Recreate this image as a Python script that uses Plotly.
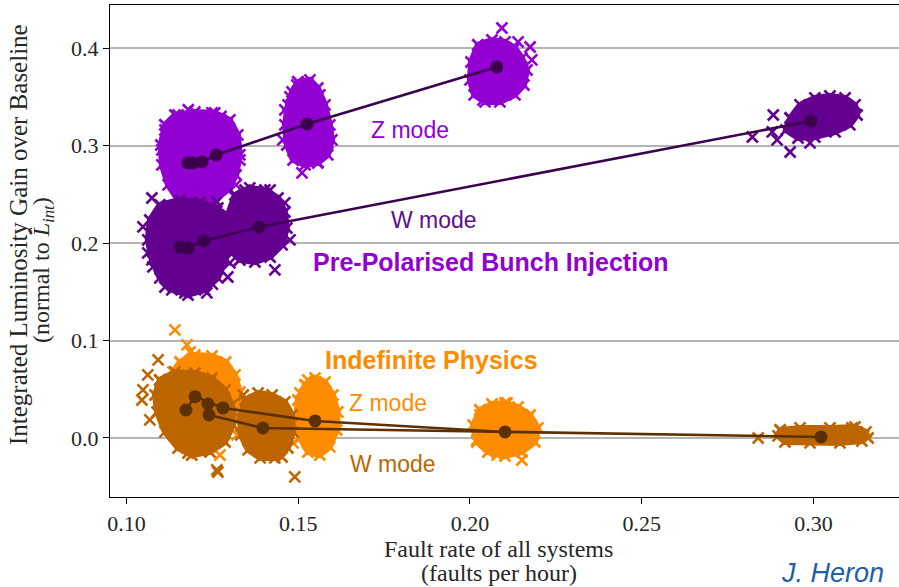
import plotly.graph_objects as go

# ---------------- data ----------------
# mean points (lines)
pz_line_x = [0.1179, 0.1193, 0.1220, 0.1261, 0.1526, 0.2078]
pz_line_y = [0.2823, 0.2823, 0.2834, 0.2906, 0.3224, 0.3809]
pw_line_x = [0.1156, 0.1179, 0.1225, 0.1386, 0.2993]
pw_line_y = [0.1961, 0.1950, 0.2023, 0.2166, 0.3255]
oz_line_x = [0.1173, 0.1200, 0.1281, 0.1549, 0.2102]
oz_line_y = [0.0287, 0.0424, 0.0308, 0.0175, 0.0062]
ow_line_x = [0.1237, 0.1240, 0.1397, 0.3022]
ow_line_y = [0.0349, 0.0236, 0.0103, 0.0010]

# dense cores of the sample clouds (outlines) and outlying samples
pz1_core_x = [0.1112, 0.1141, 0.1199, 0.1257, 0.1301, 0.1324, 0.1330, 0.1319, 0.1295, 0.1257, 0.1199, 0.1150, 0.1121, 0.1103, 0.1100]
pz1_core_y = [0.3214, 0.3316, 0.3347, 0.3337, 0.3265, 0.3111, 0.2906, 0.2700, 0.2546, 0.2444, 0.2392, 0.2444, 0.2598, 0.2803, 0.3008]
pz1_pts_x = [0.1150, 0.1249, 0.1112, 0.1103, 0.1316, 0.1330, 0.1199, 0.1292, 0.1319, 0.1127, 0.1180, 0.1275]
pz1_pts_y = [0.3316, 0.3337, 0.3162, 0.2957, 0.3060, 0.2854, 0.2567, 0.3234, 0.2598, 0.2700, 0.3370, 0.3300]

pz2_core_x = [0.1499, 0.1534, 0.1557, 0.1578, 0.1592, 0.1598, 0.1586, 0.1557, 0.1520, 0.1485, 0.1467, 0.1461, 0.1470, 0.1482]
pz2_core_y = [0.3655, 0.3676, 0.3593, 0.3419, 0.3214, 0.3060, 0.2906, 0.2823, 0.2803, 0.2854, 0.3008, 0.3214, 0.3419, 0.3552]
pz2_pts_x = [0.1496, 0.1528, 0.1563, 0.1461, 0.1455, 0.1511, 0.1557, 0.1586, 0.1476]
pz2_pts_y = [0.3624, 0.3645, 0.3522, 0.3368, 0.3060, 0.2721, 0.2834, 0.3029, 0.3501]

pz3_core_x = [0.2023, 0.2064, 0.2102, 0.2131, 0.2151, 0.2166, 0.2157, 0.2131, 0.2087, 0.2044, 0.2012, 0.2000, 0.2003]
pz3_core_y = [0.4035, 0.4086, 0.4066, 0.4004, 0.3901, 0.3778, 0.3624, 0.3522, 0.3450, 0.3450, 0.3522, 0.3676, 0.3860]
pz3_pts_x = [0.2093, 0.2140, 0.2180, 0.2175, 0.2038, 0.2122]
pz3_pts_y = [0.4209, 0.4066, 0.3881, 0.4014, 0.3470, 0.3624]

pw1_core_x = [0.1097, 0.1156, 0.1214, 0.1266, 0.1295, 0.1301, 0.1289, 0.1266, 0.1228, 0.1179, 0.1132, 0.1097, 0.1074, 0.1062, 0.1068]
pw1_core_y = [0.2392, 0.2444, 0.2423, 0.2361, 0.2238, 0.2033, 0.1828, 0.1643, 0.1520, 0.1468, 0.1520, 0.1643, 0.1828, 0.2033, 0.2238]
pw1_pts_x = [0.1074, 0.1048, 0.1062, 0.1077, 0.1112, 0.1170, 0.1234, 0.1295, 0.1330, 0.1263, 0.1315, 0.1250]
pw1_pts_y = [0.2464, 0.2167, 0.1900, 0.1756, 0.1550, 0.1489, 0.1489, 0.1653, 0.1828, 0.2423, 0.2300, 0.1580]

pw2_core_x = [0.1316, 0.1359, 0.1403, 0.1441, 0.1461, 0.1467, 0.1453, 0.1418, 0.1374, 0.1330, 0.1301, 0.1290, 0.1295]
pw2_core_y = [0.2495, 0.2567, 0.2546, 0.2464, 0.2320, 0.2156, 0.1982, 0.1858, 0.1807, 0.1828, 0.1930, 0.2084, 0.2290]
pw2_pts_x = [0.1345, 0.1418, 0.1461, 0.1476, 0.1432, 0.1368, 0.1301, 0.1330]
pw2_pts_y = [0.2546, 0.2546, 0.2413, 0.2033, 0.1725, 0.1848, 0.1797, 0.2423]

pw3_core_x = [0.2932, 0.2961, 0.3004, 0.3048, 0.3092, 0.3121, 0.3127, 0.3106, 0.3063, 0.3004, 0.2955, 0.2920]
pw3_core_y = [0.3285, 0.3419, 0.3491, 0.3511, 0.3491, 0.3419, 0.3316, 0.3214, 0.3142, 0.3090, 0.3080, 0.3162]
pw3_pts_x = [0.2822, 0.2883, 0.2894, 0.2932, 0.2990, 0.3043, 0.3077, 0.2880]
pw3_pts_y = [0.3090, 0.3316, 0.3060, 0.2936, 0.3029, 0.3470, 0.3439, 0.3142]

oz1_core_x = [0.1156, 0.1199, 0.1249, 0.1289, 0.1316, 0.1330, 0.1324, 0.1301, 0.1257, 0.1199, 0.1156, 0.1132, 0.1127, 0.1135]
oz1_core_y = [0.0780, 0.0852, 0.0842, 0.0780, 0.0647, 0.0472, 0.0267, 0.0103, -0.0021, -0.0041, 0.0062, 0.0267, 0.0493, 0.0678]
oz1_pts_x = [0.1141, 0.1176, 0.1185, 0.1281, 0.1324, 0.1322, 0.1272]
oz1_pts_y = [0.1109, 0.0955, 0.0883, 0.0719, 0.0441, 0.0031, -0.0175]

oz2_core_x = [0.1520, 0.1549, 0.1578, 0.1601, 0.1615, 0.1612, 0.1592, 0.1563, 0.1528, 0.1505, 0.1494, 0.1499]
oz2_core_y = [0.0544, 0.0616, 0.0575, 0.0441, 0.0267, 0.0082, -0.0092, -0.0175, -0.0144, 0.0000, 0.0205, 0.0390]
oz2_pts_x = [0.1528, 0.1505, 0.1592, 0.1482, 0.1485]
oz2_pts_y = [0.0595, 0.0462, 0.0411, 0.0082, -0.0051]

oz3_core_x = [0.2029, 0.2064, 0.2102, 0.2140, 0.2175, 0.2198, 0.2189, 0.2151, 0.2102, 0.2052, 0.2020, 0.2009]
oz3_core_y = [0.0287, 0.0349, 0.0359, 0.0318, 0.0236, 0.0103, -0.0041, -0.0144, -0.0185, -0.0144, -0.0041, 0.0133]
oz3_pts_x = [0.2108, 0.2154, 0.2029, 0.2020, 0.2151, 0.2079]
oz3_pts_y = [0.0359, 0.0236, 0.0236, -0.0021, -0.0226, -0.0175]

ow1_core_x = [0.1097, 0.1141, 0.1199, 0.1249, 0.1287, 0.1307, 0.1310, 0.1287, 0.1243, 0.1190, 0.1150, 0.1112, 0.1089, 0.1083]
ow1_core_y = [0.0595, 0.0678, 0.0667, 0.0616, 0.0493, 0.0339, 0.0133, -0.0041, -0.0144, -0.0175, -0.0103, 0.0062, 0.0267, 0.0441]
ow1_pts_x = [0.1092, 0.1062, 0.1048, 0.1045, 0.1068, 0.1179, 0.1266]
ow1_pts_y = [0.0801, 0.0647, 0.0493, 0.0390, 0.0185, -0.0154, -0.0349]

ow2_core_x = [0.1345, 0.1383, 0.1424, 0.1461, 0.1482, 0.1485, 0.1470, 0.1432, 0.1389, 0.1354, 0.1333, 0.1330]
ow2_core_y = [0.0390, 0.0462, 0.0441, 0.0370, 0.0236, 0.0062, -0.0103, -0.0205, -0.0205, -0.0123, 0.0031, 0.0205]
ow2_pts_x = [0.1340, 0.1397, 0.1426, 0.1453, 0.1490, 0.1263]
ow2_pts_y = [0.0441, 0.0390, -0.0154, -0.0195, -0.0400, -0.0329]

ow3_core_x = [0.2903, 0.2961, 0.3048, 0.3121, 0.3153, 0.3141, 0.3077, 0.2990, 0.2917, 0.2897]
ow3_core_y = [0.0082, 0.0103, 0.0103, 0.0113, 0.0062, -0.0031, -0.0051, -0.0051, -0.0041, 0.0021]
ow3_pts_x = [0.2839, 0.2923, 0.3010, 0.3112, 0.3159]
ow3_pts_y = [0.0000, 0.0062, 0.0062, 0.0103, 0.0000]

x_ticks = [0.10, 0.15, 0.20, 0.25, 0.30]
x_ticklabels = ["0.10", "0.15", "0.20", "0.25", "0.30"]
y_ticks = [0.0, 0.1, 0.2, 0.3, 0.4]
y_ticklabels = ["0.0", "0.1", "0.2", "0.3", "0.4"]

# ---------------- styles ----------------
C_PZ = "#9200d2"
C_PW = "#640090"
C_PLINE = "#3c004f"
C_OZ = "#ff8c00"
C_OW = "#bd6500"
C_OLINE = "#5c3000"

fig = go.Figure()


def cloud(cx, cy, px, py, color):
    fig.add_trace(go.Scatter(
        x=cx + cx[:1], y=cy + cy[:1], mode="lines+markers", fill="toself",
        fillcolor=color, line=dict(color=color, width=6),
        marker=dict(symbol="x-thin", size=11, line=dict(color=color, width=2.6)),
        hoverinfo="skip", showlegend=False))
    fig.add_trace(go.Scatter(
        x=px, y=py, mode="markers",
        marker=dict(symbol="x-thin", size=11, line=dict(color=color, width=2.6)),
        hoverinfo="skip", showlegend=False))


for cx, cy, px, py in [(pz1_core_x, pz1_core_y, pz1_pts_x, pz1_pts_y),
                       (pz2_core_x, pz2_core_y, pz2_pts_x, pz2_pts_y),
                       (pz3_core_x, pz3_core_y, pz3_pts_x, pz3_pts_y)]:
    cloud(cx, cy, px, py, C_PZ)
for cx, cy, px, py in [(pw1_core_x, pw1_core_y, pw1_pts_x, pw1_pts_y),
                       (pw2_core_x, pw2_core_y, pw2_pts_x, pw2_pts_y),
                       (pw3_core_x, pw3_core_y, pw3_pts_x, pw3_pts_y)]:
    cloud(cx, cy, px, py, C_PW)
for cx, cy, px, py in [(oz1_core_x, oz1_core_y, oz1_pts_x, oz1_pts_y),
                       (oz2_core_x, oz2_core_y, oz2_pts_x, oz2_pts_y),
                       (oz3_core_x, oz3_core_y, oz3_pts_x, oz3_pts_y)]:
    cloud(cx, cy, px, py, C_OZ)
for cx, cy, px, py in [(ow1_core_x, ow1_core_y, ow1_pts_x, ow1_pts_y),
                       (ow2_core_x, ow2_core_y, ow2_pts_x, ow2_pts_y),
                       (ow3_core_x, ow3_core_y, ow3_pts_x, ow3_pts_y)]:
    cloud(cx, cy, px, py, C_OW)

for lx, ly, col in [(pz_line_x, pz_line_y, C_PLINE), (pw_line_x, pw_line_y, C_PLINE),
                    (oz_line_x, oz_line_y, C_OLINE), (ow_line_x, ow_line_y, C_OLINE)]:
    fig.add_trace(go.Scatter(
        x=lx, y=ly, mode="lines+markers",
        line=dict(color=col, width=2.6),
        marker=dict(symbol="circle", size=13, color=col),
        hoverinfo="skip", showlegend=False))

SANS = "Liberation Sans, Arial, sans-serif"
SERIF = "Liberation Serif, Times New Roman, serif"
TXT = "#262626"

ann = [
    dict(x=0.1825, y=0.3162, text="Z mode", font=dict(family=SANS, size=23, color=C_PZ)),
    dict(x=0.1895, y=0.2238, text="W mode", font=dict(family=SANS, size=23, color="#5c0f8a")),
    dict(x=0.2061, y=0.1807, text="<b>Pre-Polarised Bunch Injection</b>",
         font=dict(family=SANS, size=25, color=C_PZ)),
    dict(x=0.1889, y=0.0801, text="<b>Indefinite Physics</b>",
         font=dict(family=SANS, size=25, color=C_OZ)),
    dict(x=0.1761, y=0.0359, text="Z mode", font=dict(family=SANS, size=23, color=C_OZ)),
    dict(x=0.1776, y=-0.0267, text="W mode", font=dict(family=SANS, size=23, color=C_OW)),
]
for a in ann:
    fig.add_annotation(xref="x", yref="y", showarrow=False, xanchor="center",
                       yanchor="middle", **a)

# axis titles (each line placed separately)
fig.add_annotation(xref="paper", yref="paper", x=0.493, y=-0.1057, showarrow=False,
                   xanchor="center", yanchor="middle", text="Fault rate of all systems",
                   font=dict(family=SERIF, size=24, color=TXT))
fig.add_annotation(xref="paper", yref="paper", x=0.493, y=-0.1545, showarrow=False,
                   xanchor="center", yanchor="middle", text="(faults per hour)",
                   font=dict(family=SERIF, size=24, color=TXT))
fig.add_annotation(xref="paper", yref="paper", x=-0.1166, y=0.5325, showarrow=False,
                   xanchor="center", yanchor="middle", textangle=-90,
                   text="Integrated Luminosity Gain over Baseline",
                   font=dict(family=SERIF, size=25, color=TXT))
fig.add_annotation(xref="paper", yref="paper", x=-0.0849, y=0.4614, showarrow=False,
                   xanchor="center", yanchor="middle", textangle=-90,
                   text="(normal to <i>L̂</i><sub><i>int</i></sub>)",
                   font=dict(family=SERIF, size=24, color=TXT))

fig.add_annotation(xref="paper", yref="paper", x=0.916, y=-0.1545, showarrow=False,
                   xanchor="center", yanchor="middle", text="<i>J. Heron</i>",
                   font=dict(family=SANS, size=27, color="#1f5fa8"))

fig.update_layout(
    width=899, height=587,
    margin=dict(l=110, r=0, t=5, b=90),
    paper_bgcolor="white", plot_bgcolor="white",
    xaxis=dict(range=[0.0952, 0.3249], tickvals=x_ticks, ticktext=x_ticklabels,
               automargin=False,
               showgrid=False, zeroline=False, showline=True, linecolor="black",
               linewidth=1.4, mirror=True, ticks="outside", ticklen=6, tickwidth=1.3,
               tickcolor="black",
               tickfont=dict(family=SERIF, size=22, color=TXT)),
    yaxis=dict(range=[-0.0606, 0.4445], tickvals=y_ticks, ticktext=y_ticklabels,
               automargin=False,
               showgrid=True, gridcolor="#b4b4b4", gridwidth=1.5, zeroline=False,
               showline=True, linecolor="black", linewidth=1.4, mirror=False,
               ticks="outside", ticklen=6, tickwidth=1.3, tickcolor="black",
               tickfont=dict(family=SERIF, size=22, color=TXT)),
)

fig.write_html("out.html", config={"displayModeBar": False},
               post_script="document.body.style.margin='0';"
                           "document.body.style.overflow='hidden';")
